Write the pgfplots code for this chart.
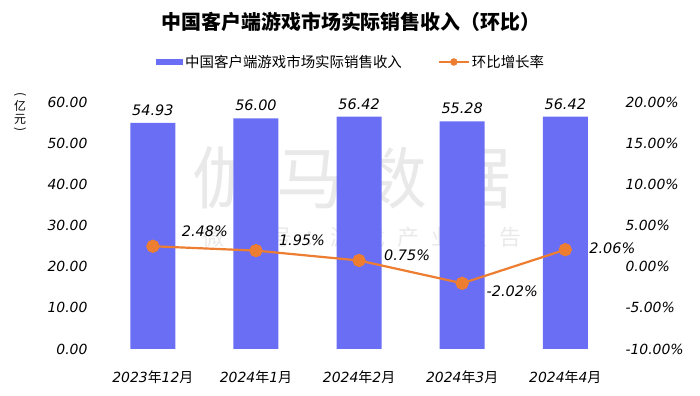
\documentclass[border=0pt]{standalone}
\usepackage{fontspec}
\usepackage{graphicx}
\usepackage{pgfplots}
\pgfplotsset{compat=1.18}
\setmainfont{Noto Sans CJK SC}
\newfontfamily\numf{DejaVu Sans}
\definecolor{barc}{HTML}{6A6EF5}
\definecolor{linec}{HTML}{ED7D31}
\definecolor{wm}{HTML}{E9E9E9}
\newcommand{\nm}[1]{{\numf\itshape #1}}
\pgfplotsset{/pgf/number format/assume math mode=true}
\begin{document}
\begin{tikzpicture}
\useasboundingbox (0,0) rectangle (700bp,396bp);
% watermark
\node[text=wm, font=\fontsize{68}{68}\selectfont, inner sep=0] at (352bp,218bp) {伽\hspace{16bp}马\hspace{16bp}数\hspace{16bp}据};
\node[text=wm, font=\fontsize{22}{22}\selectfont, inner sep=0] at (362bp,159bp) {微\hspace{12bp}信\hspace{12bp}号\hspace{12bp}：\hspace{4bp}游\hspace{12bp}戏\hspace{12bp}产\hspace{12bp}业\hspace{12bp}报\hspace{12bp}告};
\begin{axis}[
  at={(91bp,47bp)}, anchor=south west, scale only axis,
  width=531bp, height=247bp,
  xmin=-0.6, xmax=4.55, ymin=0, ymax=60,
  ytick={0,10,...,60}, xtick={0,...,4},
  xticklabels={\nm{2023}年\nm{12}月,\nm{2024}年\nm{1}月,\nm{2024}年\nm{2}月,\nm{2024}年\nm{3}月,\nm{2024}年\nm{4}月},
  axis line style={draw=none}, tick style={draw=none},
  yticklabel={\nm{\pgfmathprintnumber[fixed,fixed zerofill,precision=2]{\tick}}},
  ticklabel style={font=\fontsize{14}{14}\selectfont},
  xticklabel style={yshift=-14bp},
  ybar, bar width=45bp,
  nodes near coords={\nm{\pgfmathprintnumber[fixed,fixed zerofill,precision=2]{\pgfplotspointmeta}}},
  every node near coord/.style={font=\fontsize{14.5}{14.5}\selectfont, anchor=south, yshift=4bp},
  legend style={at={(0.49,1.162)}, anchor=center, draw=none, fill=none, legend columns=2,
    font=\fontsize{14.5}{14.5}\selectfont, /tikz/every even column/.append style={column sep=34bp}},
]
\addplot[fill=barc, draw=none, area legend,
  legend image code/.code={\fill[barc] (0cm,-0.1cm) rectangle (0.95cm,0.12cm);}]
  coordinates {(0,54.93) (1,56.00) (2,56.42) (3,55.28) (4,56.42)};
\addlegendentry{中国客户端游戏市场实际销售收入}
\addlegendimage{linec, legend image code/.code={\draw[linec, line width=2.2bp] (0cm,0cm) -- (1.05cm,0cm); \fill[linec] (0.525cm,0cm) circle (3.5bp);}}
\addlegendentry{环比增长率}
\end{axis}
\begin{axis}[
  at={(91bp,47bp)}, anchor=south west, scale only axis,
  width=531bp, height=247bp, clip=false,
  xmin=-0.6, xmax=4.55, ymin=-10, ymax=20,
  ytick={-10,-5,...,20},
  axis y line*=right, hide x axis,
  axis line style={draw=none}, tick style={draw=none},
  yticklabel={\nm{\pgfmathprintnumber[fixed,fixed zerofill,precision=2]{\tick}\%}},
  ticklabel style={font=\fontsize{14}{14}\selectfont},
]
\addplot[linec, line width=2.2bp, mark=*, mark size=5.5bp, mark options={fill=linec, draw=linec}]
  coordinates {(0,2.48) (1,1.95) (2,0.75) (3,-2.02) (4,2.06)};
\node[font=\fontsize{14.5}{14.5}\selectfont] at (axis cs:0,2.48) [xshift=52bp,yshift=15bp] {\nm{2.48\%}};
\node[font=\fontsize{14.5}{14.5}\selectfont] at (axis cs:1,1.95) [xshift=46bp,yshift=10bp] {\nm{1.95\%}};
\node[font=\fontsize{14.5}{14.5}\selectfont] at (axis cs:2,0.75) [xshift=48bp,yshift=5bp] {\nm{0.75\%}};
\node[font=\fontsize{14.5}{14.5}\selectfont] at (axis cs:3,-2.02) [xshift=50bp,yshift=-8bp] {\nm{-2.02\%}};
\node[font=\fontsize{14.5}{14.5}\selectfont] at (axis cs:4,2.06) [xshift=47bp,yshift=1bp] {\nm{2.06\%}};
\end{axis}
\node[font=\fontsize{20}{20}\selectfont\bfseries] at (351bp,374bp) {中国客户端游戏市场实际销售收入（环比）};
\node[font=\fontsize{12}{12}\selectfont, inner sep=0, rotate=-90] at (20bp,301bp) {(};
\node[font=\fontsize{12}{12}\selectfont, inner sep=0] at (20bp,290bp) {亿};
\node[font=\fontsize{12}{12}\selectfont, inner sep=0] at (20bp,277bp) {元};
\node[font=\fontsize{12}{12}\selectfont, inner sep=0, rotate=-90] at (20bp,266bp) {)};
\end{tikzpicture}
\end{document}
